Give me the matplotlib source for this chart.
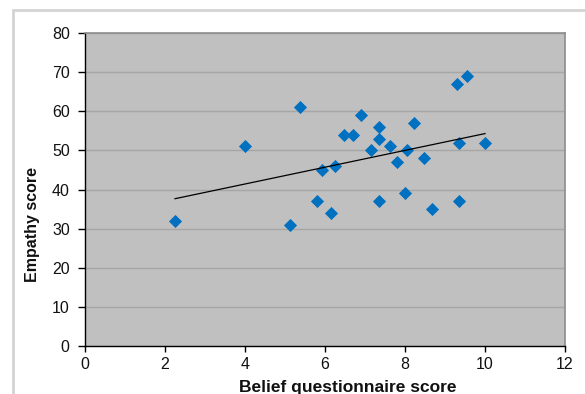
import numpy as np
import matplotlib
matplotlib.use("Agg")
import matplotlib.pyplot as plt
from matplotlib.patches import Rectangle

plt.rcParams['font.family'] = ['Liberation Sans', 'DejaVu Sans']

# Belief questionnaire score vs empathy score, one point per participant
belief = [2.25, 4.0, 5.12, 5.38, 5.79, 5.93, 6.15, 6.25, 6.48, 6.71, 6.91,
          7.15, 7.36, 7.36, 7.36, 7.63, 7.81, 8.01, 8.05, 8.23, 8.48, 8.68,
          9.29, 9.56, 9.34, 9.34, 10.0]
empathy = [32, 51, 31, 61, 37, 45, 34, 46, 54, 54, 59,
           50, 56, 53, 37, 51, 47, 39, 50, 57, 48, 35,
           67, 69, 52, 37, 52]

x_ticks = [0, 2, 4, 6, 8, 10, 12]
y_ticks = [0, 10, 20, 30, 40, 50, 60, 70, 80]

W, H = 585, 394
fig = plt.figure(figsize=(W / 100, H / 100), dpi=100)
fig.patch.set_facecolor('white')

# light chart-area frame
fig.patches.append(Rectangle((12.5 / W, -0.05), 1.2, (H - 9.5) / H + 0.05,
                             transform=fig.transFigure, facecolor='none',
                             edgecolor='#d4d4d4', linewidth=2.0, zorder=0))

ax = fig.add_axes([85 / W, (H - 346) / H, 480 / W, 313 / H])
ax.set_facecolor('#c0c0c0')
ax.set_xlim(0, 12)
ax.set_ylim(0, 80)
ax.set_xticks(x_ticks)
ax.set_yticks(y_ticks)
ax.tick_params(axis='both', direction='out', width=1, color='black',
               labelsize=11.5, labelcolor='#111111')
ax.tick_params(axis='x', length=4, pad=4)
ax.tick_params(axis='y', length=5, pad=6)
ax.yaxis.grid(True, color='#a6a6a6', linewidth=1.0)
ax.set_axisbelow(True)
for side in ('left', 'bottom'):
    ax.spines[side].set_color('black')
    ax.spines[side].set_linewidth(1.0)
for side in ('top', 'right'):
    ax.spines[side].set_color('#8c8c8c')
    ax.spines[side].set_linewidth(1.2)

ax.scatter(belief, empathy, marker='D', s=6.7 ** 2, color='#0070c0',
           linewidths=0, zorder=3)

# linear trend line over the data range
coef = np.polyfit(belief, empathy, 1)
xs = np.array([min(belief), max(belief)])
ax.plot(xs, np.polyval(coef, xs), color='black', linewidth=0.9, zorder=4)

fig.text(348 / W, 1 - 380 / H, 'Belief questionnaire score', ha='center',
         va='top', fontsize=12.5, fontweight='bold', color='#111111')
fig.text(32 / W, 1 - 225 / H, 'Empathy score', ha='center', va='center',
         rotation=90, fontsize=11.5, fontweight='bold', color='#111111')

fig.savefig('out.png', dpi=100, facecolor='white')
